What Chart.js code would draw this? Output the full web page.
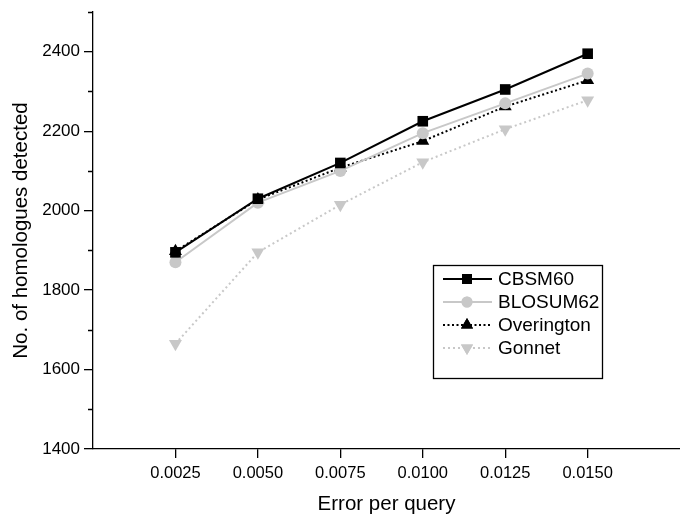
<!DOCTYPE html>
<html>
<head>
<meta charset="utf-8">
<script src="https://cdn.jsdelivr.net/npm/chart.js@4"></script>
<style>
  body { margin: 0; background: #fff; }
  #wrap { width: 680px; height: 517px; }
</style>
</head>
<body>
<div id="wrap"><canvas id="myChart" width="680" height="517"></canvas></div>
<script>
// data
var errorRates = [0.0025, 0.0050, 0.0075, 0.0100, 0.0125, 0.0150];
var cbsm60 = [1895, 2030, 2120, 2225, 2305, 2395];
var blosum62 = [1870, 2020, 2100, 2195, 2270, 2345];
var overington = [1898, 2028, 2108, 2175, 2262, 2328];
var gonnet = [1665, 1895, 2015, 2122, 2205, 2278];

var yTicks = [1400, 1600, 1800, 2000, 2200, 2400];
var yMinorTicks = [1500, 1700, 1900, 2100, 2300, 2500];
var xTicks = errorRates;

var gray = "#c8c8c8";
var font = "'Liberation Sans', Arial, sans-serif";

function points(values) {
  return errorRates.map(function (x, i) { return {x: x, y: values[i]}; });
}

var series = [
  {label: "CBSM60", data: cbsm60, color: "#000", dash: [], style: "rect", radius: 7.5, rot: 0},
  {label: "BLOSUM62", data: blosum62, color: gray, dash: [], style: "circle", radius: 6, rot: 0},
  {label: "Overington", data: overington, color: "#000", dash: [2, 2.5], style: "triangle", radius: 7.5, rot: 0},
  {label: "Gonnet", data: gonnet, color: gray, dash: [2, 3], style: "triangle", radius: 7.5, rot: 180}
];

// short minor ticks on the y axis
var minorTicks = {
  id: "minorTicks",
  afterDraw: function (chart) {
    var ctx = chart.ctx, y = chart.scales.y, x0 = chart.chartArea.left;
    ctx.save();
    ctx.strokeStyle = "#000";
    ctx.lineWidth = 1.3;
    ctx.beginPath();
    yMinorTicks.forEach(function (v) {
      var py = Math.round(y.getPixelForValue(v)) + 0.5;
      ctx.moveTo(x0 - 5, py);
      ctx.lineTo(x0, py);
    });
    ctx.stroke();
    ctx.restore();
  }
};

// boxed legend inside the plot
var boxLegend = {
  id: "boxLegend",
  afterDraw: function (chart) {
    var ctx = chart.ctx;
    var left = 433, top = 265, right = 602, bottom = 378;
    ctx.save();
    ctx.strokeStyle = "#000";
    ctx.lineWidth = 1.3;
    ctx.strokeRect(left + 0.5, top + 0.5, right - left, bottom - top);
    ctx.font = "19px " + font;
    ctx.textBaseline = "middle";
    series.forEach(function (s, i) {
      var cy = 279 + i * 23;
      ctx.strokeStyle = s.color;
      ctx.lineWidth = 2;
      ctx.setLineDash(s.dash);
      ctx.beginPath();
      ctx.moveTo(443, cy);
      ctx.lineTo(492, cy);
      ctx.stroke();
      ctx.setLineDash([]);
      ctx.fillStyle = s.color;
      Chart.helpers.drawPoint(ctx, {pointStyle: s.style, radius: s.radius - 0.5, rotation: s.rot, borderWidth: 0}, 467, cy);
      ctx.fill();
      ctx.fillStyle = "#000";
      ctx.fillText(s.label, 498, cy + 1);
    });
    ctx.restore();
  }
};

new Chart("myChart", {
  type: "line",
  data: {
    datasets: series.map(function (s) {
      return {
        label: s.label,
        data: points(s.data),
        borderColor: s.color,
        backgroundColor: s.color,
        borderWidth: 2,
        borderDash: s.dash,
        pointStyle: s.style,
        pointRadius: s.radius,
        pointRotation: s.rot,
        pointBorderWidth: 0,
        pointBackgroundColor: s.color,
        tension: 0
      };
    })
  },
  options: {
    responsive: false,
    animation: false,
    events: [],
    layout: {autoPadding: false, padding: {top: 12, right: 0, left: 0, bottom: 0}},
    plugins: {
      legend: {display: false},
      tooltip: {enabled: false}
    },
    scales: {
      x: {
        type: "linear",
        min: 0,
        max: 0.0178,
        afterBuildTicks: function (scale) {
          scale.ticks = xTicks.map(function (v) { return {value: v}; });
        },
        afterFit: function (scale) {
          scale.height = 68;
          scale.paddingLeft = 0;
          scale.paddingRight = 0;
        },
        grid: {drawOnChartArea: false, drawTicks: true, tickLength: 9, color: "#000", lineWidth: 1.3},
        border: {color: "#000", width: 1.3},
        ticks: {
          color: "#000",
          font: {family: font, size: 16.5},
          padding: 6,
          maxRotation: 0,
          callback: function (v) { return v.toFixed(4); }
        },
        title: {display: true, text: "Error per query", color: "#000", font: {family: font, size: 20.5}, padding: {top: 10, bottom: 0}}
      },
      y: {
        type: "linear",
        min: 1400,
        max: 2500,
        afterBuildTicks: function (scale) {
          scale.ticks = yTicks.map(function (v) { return {value: v}; });
        },
        afterFit: function (scale) {
          scale.width = 93;
          scale.paddingTop = 0;
          scale.paddingBottom = 0;
        },
        grid: {drawOnChartArea: false, drawTicks: true, tickLength: 9, color: "#000", lineWidth: 1.3},
        border: {color: "#000", width: 1.3},
        ticks: {
          color: "#000",
          font: {family: font, size: 17},
          padding: 4,
          callback: function (v) { return String(v); }
        },
        title: {display: true, text: "No. of homologues detected", color: "#000", font: {family: font, size: 20.5}, padding: {bottom: 0, top: 9}}
      }
    }
  },
  plugins: [minorTicks, boxLegend]
});
</script>
</body>
</html>
